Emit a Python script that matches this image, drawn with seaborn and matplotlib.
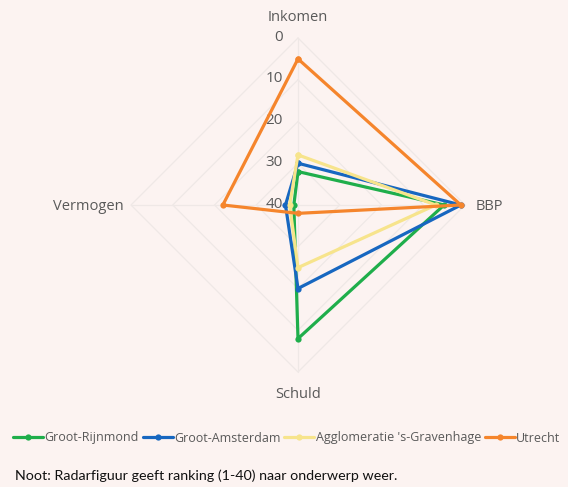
import numpy as np
import pandas as pd
import seaborn as sns
import matplotlib.pyplot as plt

# ranking 1-40 per topic
axes_labels = ["Inkomen", "BBP", "Schuld", "Vermogen"]
regions = ["Groot-Rijnmond", "Groot-Amsterdam", "Agglomeratie 's-Gravenhage", "Utrecht"]
rijnmond = [32, 5, 8, 39]
amsterdam = [30, 1, 20, 37]
gravenhage = [28, 7, 25, 38]
utrecht = [5, 1, 38, 22]
colors = ["#1fae4b", "#1767c0", "#f7e48c", "#f5852c"]
ticks = [0, 10, 20, 30, 40]

BG = "#fcf3f1"
GREY = "#595959"
angles = np.deg2rad([90, 0, -90, 180])
RMAX = 40

sns.set_theme(style="white")
plt.rcParams["font.family"] = ["Open Sans", "DejaVu Sans"]

fig = plt.figure(figsize=(5.68, 4.87), dpi=100, facecolor=BG)
ax = fig.add_axes([0, 0, 1, 1])
ax.set_facecolor(BG)
scale = 167 / RMAX  # pixels per unit
ax.set_xlim(-298 / scale, (568 - 298) / scale)
ax.set_ylim(-(487 - 205) / scale, 205 / scale)
ax.axis("off")

# diamond grid + spokes
for t in ticks[:-1]:
    r = RMAX - t
    gx = list(r * np.cos(angles)) + [r * np.cos(angles[0])]
    gy = list(r * np.sin(angles)) + [r * np.sin(angles[0])]
    ax.plot(gx, gy, color="#efe8e6", lw=0.9, zorder=1)
for a in angles:
    ax.plot([0, RMAX * np.cos(a)], [0, RMAX * np.sin(a)], color="#efe8e6", lw=0.9, zorder=1)

# data
rows = []
for name, vals in zip(regions, [rijnmond, amsterdam, gravenhage, utrecht]):
    for i in list(range(4)) + [0]:
        r = RMAX - vals[i]
        rows.append({"region": name, "step": len(rows), "x": r * np.cos(angles[i]), "y": r * np.sin(angles[i])})
df = pd.DataFrame(rows)

for name, c in zip(regions, colors):
    sns.lineplot(data=df[df.region == name], x="x", y="y", sort=False, estimator=None,
                 color=c, lw=2.3, marker="o", markersize=4.5, markeredgewidth=0,
                 label=name, ax=ax, zorder=3)

# tick labels along top axis
for t in ticks:
    ax.text(-3.6, RMAX - t + 0.2, str(t), ha="right", va="center", fontsize=11, color=GREY, zorder=2)

# axis labels
ax.text(0, RMAX + 5.0, axes_labels[0], ha="center", va="center", fontsize=10.5, color=GREY)
ax.text(RMAX + 2.6, -0.3, axes_labels[1], ha="left", va="center", fontsize=10.5, color=GREY)
ax.text(0, -RMAX - 5.5, axes_labels[2], ha="center", va="center", fontsize=10.5, color=GREY)
ax.text(-RMAX - 1.8, -0.3, axes_labels[3], ha="right", va="center", fontsize=10.5, color=GREY)

h, l = ax.get_legend_handles_labels()
leg = ax.legend(h, l, loc="center", bbox_to_anchor=(0.505, 1 - 438 / 487), bbox_transform=fig.transFigure,
                ncol=4, frameon=False, fontsize=9, handlelength=2.4, handletextpad=0.1,
                columnspacing=0.3, labelcolor=GREY)

fig.text(15 / 568, 1 - 476 / 487, "Noot: Radarfiguur geeft ranking (1-40) naar onderwerp weer.",
         ha="left", va="center", fontsize=10.3, color="#111111", family=["Lato", "DejaVu Sans"])

fig.savefig("out.png", dpi=100, facecolor=BG)
